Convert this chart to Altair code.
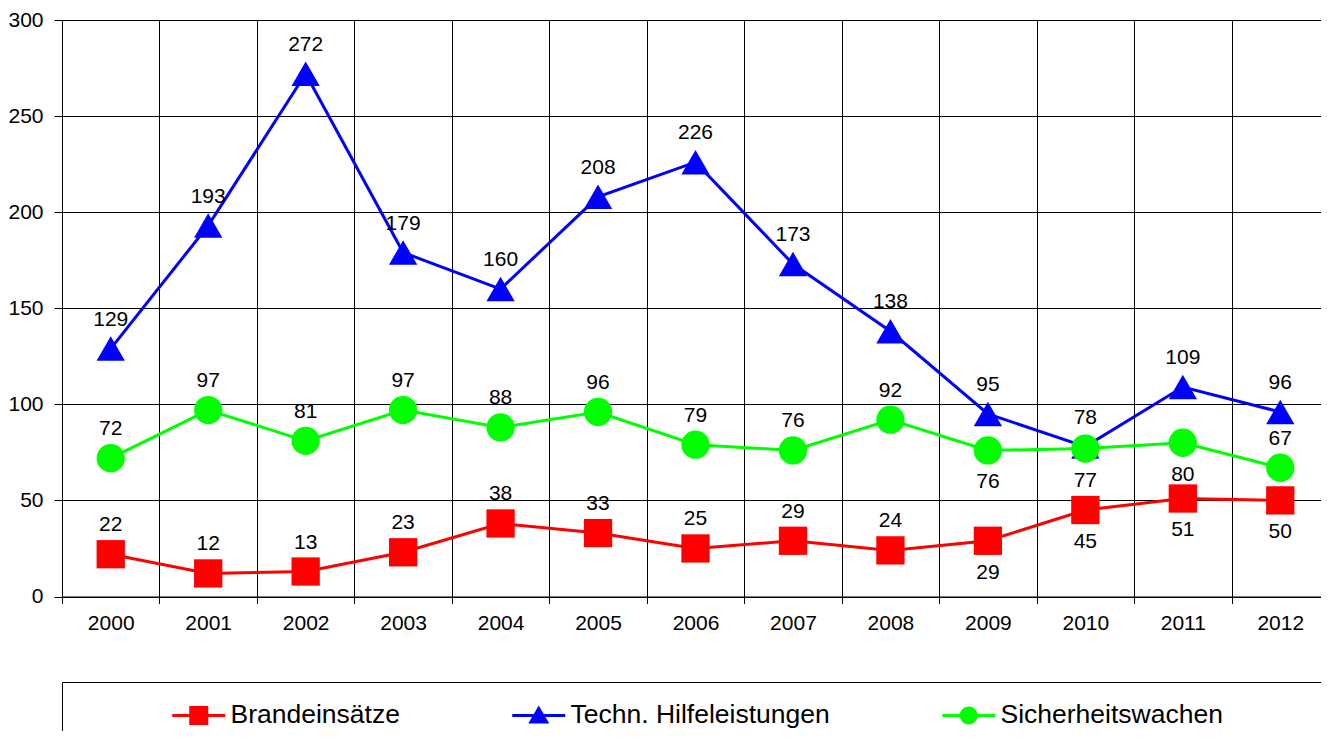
import altair as alt
import pandas as pd

FONT = "Liberation Sans"

years = ["2000", "2001", "2002", "2003", "2004", "2005", "2006",
         "2007", "2008", "2009", "2010", "2011", "2012"]
series = ["Brandeinsätze", "Techn. Hilfeleistungen", "Sicherheitswachen"]
brand = [22, 12, 13, 23, 38, 33, 25, 29, 24, 29, 45, 51, 50]
techn = [129, 193, 272, 179, 160, 208, 226, 173, 138, 95, 78, 109, 96]
sicher = [72, 97, 81, 97, 88, 96, 79, 76, 92, 76, 77, 80, 67]
brand_pos = ["above"] * 9 + ["below"] * 4
techn_pos = ["above"] * 13
sicher_pos = ["above"] * 9 + ["below"] * 3 + ["above"]
colors = ["#FF0000", "#0000FF", "#00FF00"]
shapes = ["square", "triangle-up", "circle"]
legend_paths = [
    "M-1,-0.15H4.3V0.15H-1Z M0.7,-0.95H2.6V0.95H0.7Z",
    "M-1,-0.15H4.3V0.15H-1Z M1.65,-1L2.7,0.8H0.6Z",
    "M-1,-0.15H4.3V0.15H-1Z M2.55,0A0.9,0.9 0 1,1 0.75,0A0.9,0.9 0 1,1 2.55,0Z",
]

rows = []
for name, vals, pos in zip(series, [brand, techn, sicher], [brand_pos, techn_pos, sicher_pos]):
    for yr, v, p in zip(years, vals, pos):
        rows.append({"year": yr, "series": name, "value": v, "pos": p})
df = pd.DataFrame(rows)

x = alt.X("year:N", sort=years,
          scale=alt.Scale(type="band", domain=years, paddingInner=0, paddingOuter=0),
          axis=alt.Axis(title=None, tickBand="extent", grid=True, gridColor="black",
                        gridWidth=1, gridOpacity=1, tickColor="black", tickSize=7, tickWidth=1,
                        domainColor="black", domainWidth=1, labelFontSize=21, labelPadding=8.5,
                        labelColor="black", labelAngle=0, labelFont=FONT))
y = alt.Y("value:Q",
          scale=alt.Scale(domain=[0, 300], nice=False, zero=True),
          axis=alt.Axis(title=None, values=[0, 50, 100, 150, 200, 250, 300], grid=True,
                        gridColor="black", gridWidth=1, gridOpacity=1, tickColor="black",
                        tickSize=8, tickWidth=1, domainColor="black", domainWidth=1,
                        labelFontSize=21, labelPadding=11, labelColor="black", labelFont=FONT))
color = alt.Color("series:N", scale=alt.Scale(domain=series, range=colors), legend=None)

base = alt.Chart(df)
lines = base.mark_line(strokeWidth=3).encode(x=x, y=y, color=color)
points = base.mark_point(filled=True, opacity=1, size=800).encode(
    x=x, y=y, color=color,
    shape=alt.Shape("series:N", scale=alt.Scale(domain=series, range=shapes), legend=None))
text_above = base.transform_filter(alt.datum.pos == "above").mark_text(
    dy=-29, fontSize=21, font=FONT, color="black", baseline="middle").encode(
    x=x, y=y, text="value:Q")
text_below = base.transform_filter(alt.datum.pos == "below").mark_text(
    dy=32, fontSize=21, font=FONT, color="black", baseline="middle").encode(
    x=x, y=y, text="value:Q")

main = alt.layer(lines, points, text_above, text_below).properties(width=1267, height=576.5)

leg_cfg = dict(title=None, orient="none", legendX=107, legendY=20, direction="horizontal",
               symbolSize=400, symbolStrokeWidth=0, symbolOpacity=1,
               labelFontSize=26.5, labelFont=FONT, labelColor="black",
               labelOffset=35, columnPadding=109, padding=0, labelLimit=0)
leg = alt.Chart(df).transform_filter("false").mark_point(filled=True, opacity=1).encode(
    color=alt.Color("series:N", scale=alt.Scale(domain=series, range=colors),
                    legend=alt.Legend(**leg_cfg)),
    shape=alt.Shape("series:N", scale=alt.Scale(domain=series, range=legend_paths),
                    legend=alt.Legend(**leg_cfg)),
).properties(width=1275, height=60,
             view=alt.ViewBackground(stroke="black", strokeWidth=1))

chart = alt.vconcat(main, leg, spacing=85, bounds="flush").resolve_scale(
    color="independent", shape="independent"
).properties(
    padding={"left": -1, "top": 0, "right": -17, "bottom": -12}
).configure_view(stroke="transparent")

chart.save("out.html", embed_options={"renderer": "svg", "actions": False})
